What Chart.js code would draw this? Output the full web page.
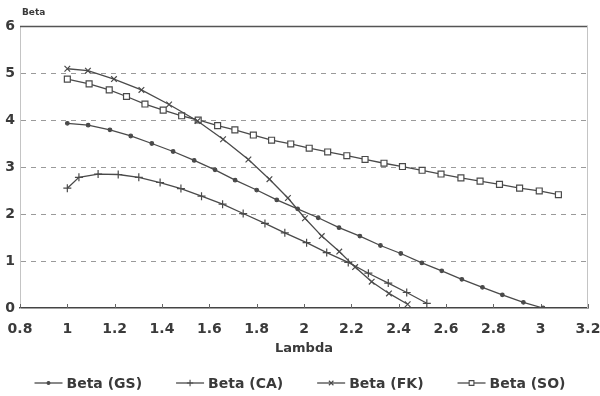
<!DOCTYPE html>
<html><head><meta charset="utf-8">
<script src="https://cdn.jsdelivr.net/npm/chart.js@4/dist/chart.umd.min.js"></script>
<style>html,body{margin:0;padding:0;background:#fff}</style>
</head><body>
<canvas id="c" width="600" height="396"></canvas>
<script>
// ---- data ----
const gsX = [1.0,1.088,1.18,1.268,1.357,1.447,1.536,1.624,1.709,1.8,1.885,1.973,2.06,2.148,2.236,2.323,2.409,2.498,2.582,2.667,2.754,2.838,2.927,3.01];
const gsY = [3.93,3.89,3.79,3.66,3.50,3.33,3.14,2.94,2.72,2.51,2.30,2.11,1.92,1.71,1.53,1.33,1.16,0.96,0.79,0.61,0.44,0.28,0.12,0.0];
const caX = [1.0,1.049,1.13,1.215,1.302,1.392,1.48,1.567,1.656,1.743,1.835,1.919,2.011,2.096,2.187,2.272,2.356,2.434,2.519];
const caY = [2.55,2.78,2.85,2.84,2.78,2.67,2.54,2.38,2.21,2.01,1.80,1.60,1.39,1.18,0.97,0.74,0.53,0.33,0.10];
const fkX = [1.0,1.087,1.197,1.313,1.43,1.55,1.658,1.765,1.854,1.932,2.004,2.075,2.149,2.216,2.286,2.359,2.438];
const fkY = [5.09,5.05,4.87,4.64,4.33,3.98,3.59,3.16,2.74,2.34,1.91,1.53,1.20,0.87,0.56,0.31,0.08];
const soX = [1.0,1.092,1.177,1.25,1.328,1.405,1.483,1.553,1.635,1.708,1.786,1.863,1.944,2.022,2.1,2.181,2.258,2.338,2.416,2.499,2.579,2.663,2.744,2.826,2.911,2.994,3.075];
const soY = [4.87,4.77,4.64,4.50,4.34,4.21,4.09,4.00,3.88,3.79,3.68,3.57,3.49,3.40,3.32,3.24,3.16,3.08,3.01,2.93,2.85,2.77,2.70,2.63,2.55,2.49,2.41];
const seriesLabels = ['Beta (GS)','Beta (CA)','Beta (FK)','Beta (SO)'];
const xTicks = [0.8,1,1.2,1.4,1.6,1.8,2,2.2,2.4,2.6,2.8,3,3.2];
const yTicks = [0,1,2,3,4,5,6];
const xTitle = 'Lambda';
const yTitle = 'Beta';

const LINE = '#4a4a4a';
const TEXT = '#3a3a3a';
const FONT = '"DejaVu Sans", "Liberation Sans", sans-serif';

function pts(xs, ys){ return xs.map((x,i)=>({x:x, y:ys[i]})); }

const styles = [
  {pointStyle:'circle', radius:1.8, bg:LINE},
  {pointStyle:'cross', radius:4, bg:LINE},
  {pointStyle:'crossRot', radius:4, bg:LINE},
  {pointStyle:'rect', radius:4.2, bg:'#ffffff'}
];
const allData = [pts(gsX,gsY), pts(caX,caY), pts(fkX,fkY), pts(soX,soY)];

const datasets = allData.map((d,i)=>({
  label: seriesLabels[i],
  data: d,
  showLine: true,
  borderColor: LINE,
  borderWidth: 1.3,
  pointStyle: styles[i].pointStyle,
  pointRadius: styles[i].radius,
  pointBorderColor: LINE,
  pointBackgroundColor: styles[i].bg,
  pointBorderWidth: 1.2,
  tension: 0
}));

const framePlugin = {
  id: 'frame',
  beforeDatasetsDraw(chart){
    const {ctx, chartArea:{left,right,top,bottom}, scales:{x}} = chart;
    ctx.save();
    ctx.strokeStyle = '#555'; ctx.lineWidth = 1.3;
    ctx.beginPath(); ctx.moveTo(left, top+0.5); ctx.lineTo(right, top+0.5); ctx.stroke();
    ctx.strokeStyle = '#c4c4c4'; ctx.lineWidth = 1;
    ctx.beginPath(); ctx.moveTo(right-0.5, top); ctx.lineTo(right-0.5, bottom); ctx.stroke();
    ctx.strokeStyle = '#666'; ctx.lineWidth = 1;
    xTicks.forEach(v=>{
      const px = Math.round(x.getPixelForValue(v))+0.5;
      ctx.beginPath(); ctx.moveTo(px, bottom); ctx.lineTo(px, bottom-4); ctx.stroke();
    });
    ctx.fillStyle = TEXT;
    ctx.font = 'bold 9px ' + FONT;
    ctx.textBaseline = 'middle'; ctx.textAlign = 'left';
    ctx.fillText(yTitle, left+2, 13);
    ctx.restore();
  },
  afterDraw(chart){
    const ctx = chart.ctx;
    ctx.save();
    ctx.font = 'bold 14px ' + FONT;
    const lineW = 28, gap = 4, between = 34;
    const widths = seriesLabels.map(s=>ctx.measureText(s).width);
    const total = widths.reduce((a,b)=>a+b,0) + seriesLabels.length*(lineW+gap) + (seriesLabels.length-1)*between;
    let cx = 300 - total/2;
    const cy = 383;
    seriesLabels.forEach((s,i)=>{
      ctx.strokeStyle = LINE; ctx.lineWidth = 1.3;
      ctx.beginPath(); ctx.moveTo(cx, cy); ctx.lineTo(cx+lineW, cy); ctx.stroke();
      ctx.fillStyle = styles[i].bg; ctx.strokeStyle = LINE; ctx.lineWidth = 1.1;
      Chart.helpers.drawPoint(ctx, {pointStyle: styles[i].pointStyle, radius: styles[i].radius*0.8, rotation: 0, borderWidth: 1.1}, cx+lineW/2, cy);
      ctx.fillStyle = TEXT; ctx.textBaseline = 'middle'; ctx.textAlign = 'left';
      ctx.fillText(s, cx+lineW+gap, cy+1);
      cx += lineW + gap + widths[i] + between;
    });
    ctx.restore();
  }
};

new Chart(document.getElementById('c'), {
  type: 'scatter',
  data: { datasets },
  options: {
    responsive: false,
    animation: false,
    devicePixelRatio: 1,
    layout: { padding: { left: 0, right: 12, top: 26, bottom: 38 } },
    plugins: { legend: { display: false }, tooltip: { enabled: false } },
    scales: {
      x: {
        type: 'linear', min: 0.8, max: 3.2,
        afterBuildTicks: s => { s.ticks = xTicks.map(v=>({value:v})); },
        afterFit: s => { s.height = 50; s.paddingLeft = 0; s.paddingRight = 0; },
        grid: { display: false },
        border: { display: true, color: '#444', width: 1.5 },
        ticks: { color: TEXT, font: { family: FONT, size: 14, weight: 'bold' }, padding: 5, maxRotation: 0, autoSkip: false,
                 callback: v => String(v) },
        title: { display: true, text: xTitle, color: TEXT, font: { family: FONT, size: 13, weight: 'bold' }, padding: { top: 0, bottom: 2 } }
      },
      y: {
        type: 'linear', min: 0, max: 6,
        afterBuildTicks: s => { s.ticks = yTicks.map(v=>({value:v})); },
        afterFit: s => { s.width = 20; s.paddingTop = 0; s.paddingBottom = 0; },
        grid: { drawTicks: false, lineWidth: 1,
                color: c => (c.tick && (c.tick.value === 0 || c.tick.value === 6)) ? 'rgba(0,0,0,0)' : '#9a9a9a' },
        border: { display: true, color: '#c4c4c4', width: 1, dash: [5,5] },
        ticks: { color: TEXT, font: { family: FONT, size: 14, weight: 'bold' }, padding: 5, callback: v => String(v) }
      }
    }
  },
  plugins: [framePlugin]
});
</script>
</body></html>
